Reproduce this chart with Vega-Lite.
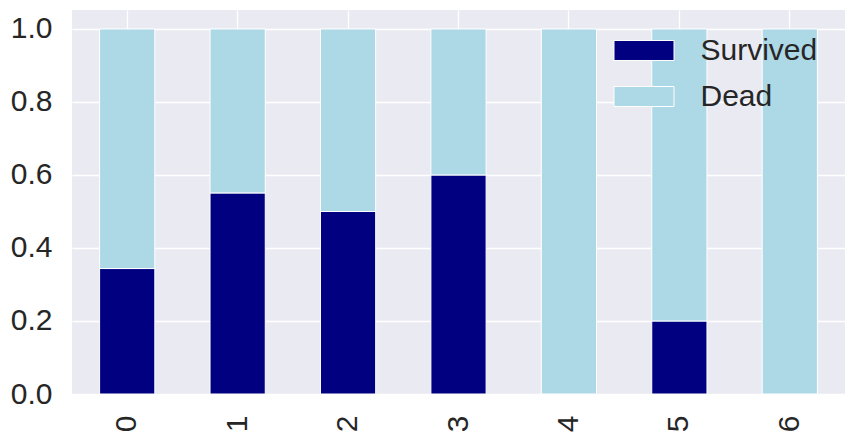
{
  "$schema": "https://vega.github.io/schema/vega-lite/v6.json",
  "autosize": {"type": "none"},
  "width": 773,
  "height": 384,
  "padding": {"left": 72, "top": 10, "right": 10, "bottom": 46},
  "background": "white",
  "config": {
    "view": {"fill": "#EAEAF2", "stroke": null},
    "font": "Liberation Sans"
  },
  "data": {
    "values": [
      {"Parch": "0", "status": "Survived", "k": 0, "rate": 0.3437},
      {"Parch": "0", "status": "Dead", "k": 1, "rate": 0.6563},
      {"Parch": "1", "status": "Survived", "k": 0, "rate": 0.5508},
      {"Parch": "1", "status": "Dead", "k": 1, "rate": 0.4492},
      {"Parch": "2", "status": "Survived", "k": 0, "rate": 0.5},
      {"Parch": "2", "status": "Dead", "k": 1, "rate": 0.5},
      {"Parch": "3", "status": "Survived", "k": 0, "rate": 0.6},
      {"Parch": "3", "status": "Dead", "k": 1, "rate": 0.4},
      {"Parch": "4", "status": "Survived", "k": 0, "rate": 0},
      {"Parch": "4", "status": "Dead", "k": 1, "rate": 1},
      {"Parch": "5", "status": "Survived", "k": 0, "rate": 0.2},
      {"Parch": "5", "status": "Dead", "k": 1, "rate": 0.8},
      {"Parch": "6", "status": "Survived", "k": 0, "rate": 0},
      {"Parch": "6", "status": "Dead", "k": 1, "rate": 1}
    ]
  },
  "mark": {"type": "bar", "stroke": "white", "strokeWidth": 1},
  "encoding": {
    "x": {
      "field": "Parch",
      "type": "nominal",
      "scale": {"paddingInner": 0.5, "paddingOuter": 0.25},
      "axis": {
        "title": null,
        "labelAngle": -90,
        "labelFontSize": 30,
        "labelColor": "#262626",
        "labelPadding": 21,
        "ticks": false,
        "domain": false,
        "grid": true,
        "gridColor": "white",
        "gridWidth": 1.3,
        "bandPosition": 0.5
      }
    },
    "y": {
      "field": "rate",
      "type": "quantitative",
      "stack": "zero",
      "scale": {"domain": [0, 1.052], "nice": false, "zero": true},
      "axis": {
        "title": null,
        "values": [0, 0.2, 0.4, 0.6, 0.8, 1.0],
        "format": ".1f",
        "labelFontSize": 30,
        "labelColor": "#262626",
        "labelPadding": 20,
        "ticks": false,
        "domain": false,
        "grid": true,
        "gridColor": "white",
        "gridWidth": 1.3
      }
    },
    "order": {"field": "k", "type": "quantitative"},
    "color": {
      "field": "status",
      "type": "nominal",
      "scale": {"domain": ["Survived", "Dead"], "range": ["#000080", "#ADD8E6"]},
      "legend": {
        "title": null,
        "orient": "none",
        "legendX": 541.5,
        "legendY": 10,
        "padding": 0,
        "symbolType": "M-1,-0.333H1V0.333H-1Z",
        "symbolSize": 3600,
        "symbolStrokeColor": "white",
        "symbolStrokeWidth": 1,
        "symbolOpacity": 1,
        "labelFontSize": 30,
        "labelColor": "#262626",
        "labelOffset": 26,
        "rowPadding": -18
      }
    }
  }
}
